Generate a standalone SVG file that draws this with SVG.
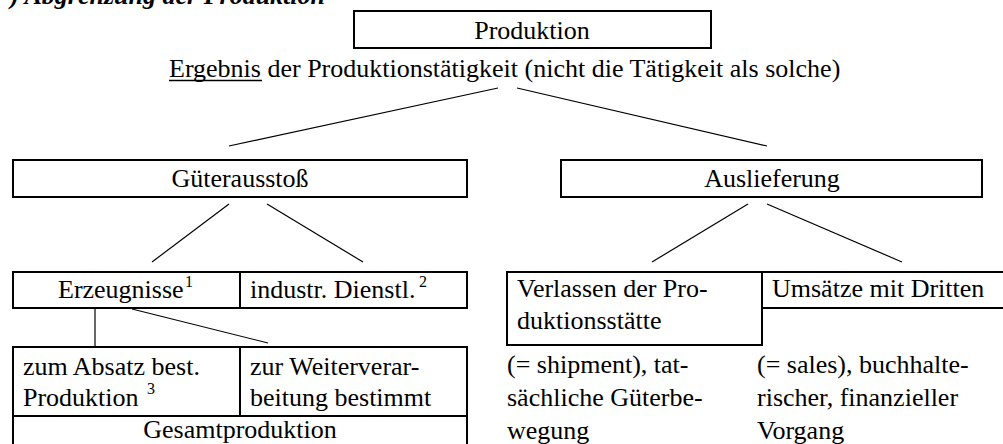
<svg xmlns="http://www.w3.org/2000/svg" width="1003" height="444" viewBox="0 0 1003 444">
<style>
text{font-family:'Liberation Serif','Times New Roman',serif;font-size:26px;fill:#000}
.c{text-anchor:middle}
.sup{font-size:16px}
.box{fill:none;stroke:#000;stroke-width:2}
.con line{stroke:#000;stroke-width:1.2}
.title{font-weight:bold;font-style:italic}
</style>
<rect width="1003" height="444" fill="#fff"/>
<text class="title" x="325" y="4" text-anchor="end">) Abgrenzung der Produktion</text>

<g id="produktion">
<rect class="box" x="354" y="11" width="357" height="37"/>
<text class="c" x="532" y="39">Produktion</text>
</g>
<g id="ergebnis">
<text x="169" y="77">Ergebnis der Produktionstätigkeit (nicht die Tätigkeit als solche)</text>
<line x1="169" y1="80.5" x2="262" y2="80.5" stroke="#000" stroke-width="1.5"/>
</g>

<g id="gueterausstoss">
<rect class="box" x="13" y="160" width="454" height="37"/>
<text class="c" x="240" y="187">Güterausstoß</text>
</g>
<g id="auslieferung">
<rect class="box" x="561" y="160" width="421" height="37"/>
<text class="c" x="772" y="187">Auslieferung</text>
</g>

<g id="erzeugnisse">
<rect class="box" x="13" y="272" width="227" height="36"/>
<text x="58" y="298">Erzeugnisse</text>
<text class="sup" x="185" y="287">1</text>
</g>
<g id="dienstl">
<rect class="box" x="240" y="272" width="227" height="36"/>
<text x="250" y="298">industr. Dienstl.</text>
<text class="sup" x="419" y="287">2</text>
</g>

<g id="absatz">
<rect class="box" x="13" y="347" width="227" height="69"/>
<text x="23" y="375">zum Absatz best.</text>
<text x="23" y="406">Produktion</text>
<text class="sup" x="147" y="394">3</text>
</g>
<g id="weiterverarbeitung">
<rect class="box" x="240" y="347" width="227" height="69"/>
<text x="250" y="375">zur Weiterverar-</text>
<text x="250" y="406">beitung bestimmt</text>
</g>
<g id="gesamtproduktion">
<path class="box" d="M13,446 V416 H467 V446"/>
<text class="c" x="240" y="438">Gesamtproduktion</text>
</g>

<g id="verlassen">
<rect class="box" x="507" y="272" width="255" height="73"/>
<text x="517" y="297">Verlassen der Pro-</text>
<text x="517" y="329">duktionsstätte</text>
<text x="507" y="373">(= shipment), tat-</text>
<text x="507" y="406">sächliche Güterbe-</text>
<text x="507" y="439">wegung</text>
</g>
<g id="umsaetze">
<path class="box" d="M762,272 H1005 M762,308 H1005"/>
<text x="772" y="297">Umsätze mit Dritten</text>
<text x="757" y="373">(= sales), buchhalte-</text>
<text x="757" y="406">rischer, finanzieller</text>
<text x="757" y="439">Vorgang</text>
</g>

<g id="connectors" class="con">
<line x1="498" y1="88" x2="229" y2="146"/>
<line x1="517" y1="88" x2="767" y2="146"/>
<line x1="229" y1="204" x2="152" y2="262"/>
<line x1="267" y1="204" x2="363" y2="262"/>
<line x1="748" y1="204" x2="652" y2="262"/>
<line x1="767" y1="204" x2="902" y2="262"/>
<line x1="95" y1="308" x2="95" y2="347"/>
<line x1="132" y1="309" x2="268" y2="343"/>
</g>
</svg>
